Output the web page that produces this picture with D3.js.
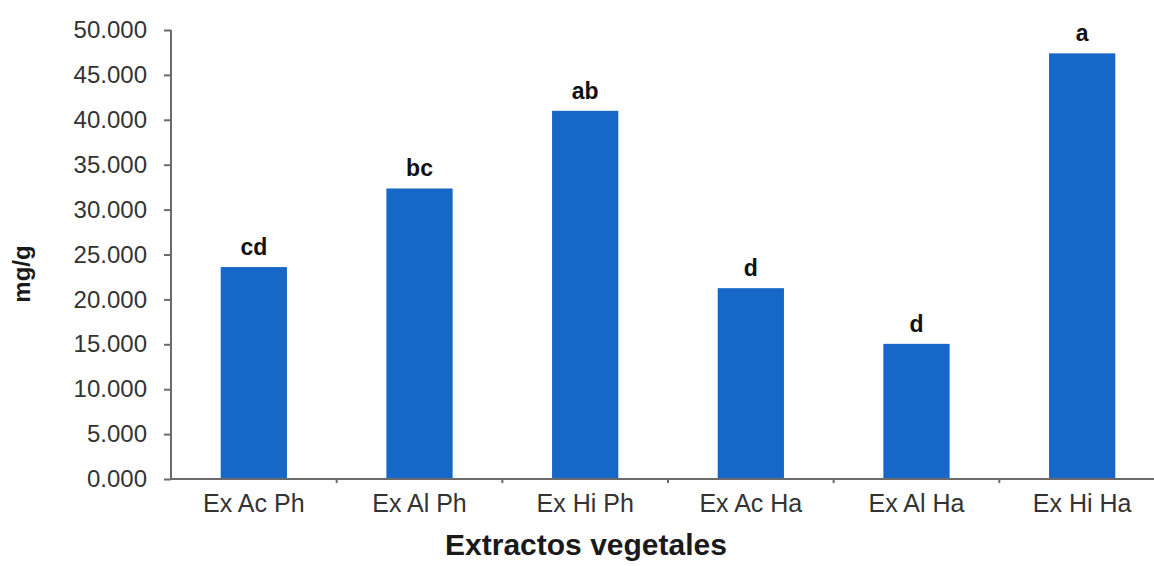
<!DOCTYPE html>
<html>
<head>
<meta charset="utf-8">
<script src="https://cdn.jsdelivr.net/npm/d3@7"></script>
<style>
  body { margin: 0; background: #fff; }
  text { font-family: "Liberation Sans", Arial, sans-serif; }
</style>
</head>
<body>
<div id="chart"></div>
<script>
// extractos y valores (mg/g)
const categories = ["Ex Ac Ph", "Ex Al Ph", "Ex Hi Ph", "Ex Ac Ha", "Ex Al Ha", "Ex Hi Ha"];
const values = [23.6, 32.35, 41.0, 21.25, 15.05, 47.4];
const letters = ["cd", "bc", "ab", "d", "d", "a"];
const yTicks = [0, 5, 10, 15, 20, 25, 30, 35, 40, 45, 50];

const config = {
    width: 1154,
    height: 566,
    margin: { top: 30, left: 171, bottom: 87, right: 0 },
    plotRight: 1165,
    barPadding: 0.6,
    barColor: '#1767c8',
    axisColor: '#6b6b6b',
    textColor: '#333',
};

const svg = d3.select("#chart")
    .append("svg")
    .attr("width", config.width)
    .attr("height", config.height);

const y0 = config.height - config.margin.bottom;

const scale_x = d3.scaleBand()
    .domain(categories)
    .range([config.margin.left, config.plotRight])
    .paddingInner(config.barPadding)
    .paddingOuter(config.barPadding / 2);

const scale_y = d3.scaleLinear()
    .domain([0, 50])
    .range([y0, config.margin.top]);

// barras
svg.append("g")
    .selectAll("rect")
    .data(values)
    .join("rect")
    .attr("x", (d, i) => scale_x(categories[i]))
    .attr("y", d => scale_y(d))
    .attr("width", scale_x.bandwidth())
    .attr("height", d => y0 - scale_y(d))
    .attr("fill", config.barColor);

// letras encima de las barras
svg.append("g")
    .selectAll("text")
    .data(values)
    .join("text")
    .attr("x", (d, i) => scale_x(categories[i]) + scale_x.bandwidth() / 2)
    .attr("y", d => scale_y(d) - 12)
    .attr("text-anchor", "middle")
    .attr("font-size", 23)
    .attr("font-weight", "bold")
    .attr("fill", "#111")
    .text((d, i) => letters[i]);

// eje Y
const axis_left = d3.axisLeft(scale_y)
    .tickValues(yTicks)
    .tickFormat(d3.format(".3f"))
    .tickSize(7)
    .tickPadding(17);
const g_axisY = svg.append("g")
    .attr("transform", `translate(${config.margin.left}, 0)`)
    .call(axis_left);
g_axisY.select(".domain").attr("stroke", config.axisColor).attr("stroke-width", 2)
    .attr("d", `M0,${config.margin.top}V${y0}`);
g_axisY.selectAll(".tick line").attr("stroke", config.axisColor).attr("stroke-width", 2);
g_axisY.selectAll(".tick text")
    .attr("font-size", 24)
    .attr("font-family", "Liberation Sans, Arial, sans-serif")
    .attr("fill", config.textColor);

// eje X: marcas entre categorías
const g_axisX = svg.append("g");
g_axisX.append("line")
    .attr("x1", config.margin.left)
    .attr("x2", config.plotRight)
    .attr("y1", y0)
    .attr("y2", y0)
    .attr("stroke", config.axisColor)
    .attr("stroke-width", 2);
g_axisX.selectAll("line.tk")
    .data(categories.slice(1))
    .join("line")
    .attr("class", "tk")
    .attr("x1", d => scale_x(d) - scale_x.step() * config.barPadding / 2)
    .attr("x2", d => scale_x(d) - scale_x.step() * config.barPadding / 2)
    .attr("y1", y0)
    .attr("y2", y0 + 4)
    .attr("stroke", config.axisColor)
    .attr("stroke-width", 2);
g_axisX.selectAll("text")
    .data(categories)
    .join("text")
    .attr("x", d => scale_x(d) + scale_x.bandwidth() / 2)
    .attr("y", y0 + 33)
    .attr("text-anchor", "middle")
    .attr("font-size", 25)
    .attr("fill", config.textColor)
    .text(d => d);

// títulos
svg.append("text")
    .attr("x", 586)
    .attr("y", 555)
    .attr("text-anchor", "middle")
    .attr("font-size", 30)
    .attr("font-weight", "bold")
    .attr("fill", "#1a1a1a")
    .text("Extractos vegetales");

svg.append("text")
    .attr("transform", `translate(30, 274) rotate(-90)`)
    .attr("text-anchor", "middle")
    .attr("font-size", 24)
    .attr("font-weight", "bold")
    .attr("fill", "#1a1a1a")
    .text("mg/g");
</script>
</body>
</html>
